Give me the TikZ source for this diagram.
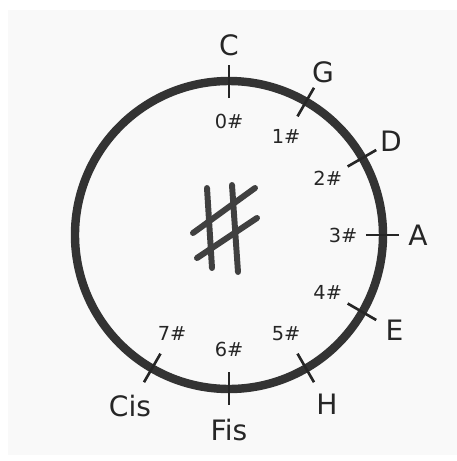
\documentclass[tikz,border=0pt]{standalone}
\usepackage{fontspec}
\setmainfont{DejaVu Sans}
\usepackage{tikz}
\usetikzlibrary{positioning}

\begin{document}
\begin{tikzpicture}[
    x=0.02cm, y=0.02cm,
    ring/.style={draw=black!80, line width=4.8pt},
    tick/.style={draw=black!85, line width=1.5pt},
    key/.style={font=\fontsize{16}{18}\selectfont, text=black!85, inner sep=0pt},
    sharps/.style={font=\fontsize{11}{13}\selectfont, text=black!85, inner sep=0pt},
    bigsharp/.style={draw=black!75, line width=3.4pt, line cap=round}
]
\useasboundingbox (-229,-226) rectangle (228,235);
\fill[white] (-229,-226) rectangle (228,235);
\fill[gray!5] (-221,-220) rectangle (228,225);
% circle of fifths
\coordinate (centre) at (0,0);
\draw[ring] (centre) circle (154);
% keys and number of sharps
\foreach \n/\k/\r in {0/C/190, 1/G/188, 2/D/187, 3/A/189, 4/E/191, 5/H/196, 6/Fis/195, 7/Cis/198} {
    \coordinate (in-\n) at ({90-30*\n}:137);
    \coordinate (out-\n) at ({90-30*\n}:170);
    \draw[tick] (in-\n) -- (out-\n);
    \node[key] (key-\n) at ({90-30*\n}:\r) {\k};
    \node[sharps] (sh-\n) at ({90-30*\n}:114) {\n\#};
}
% big sharp in the middle
\draw[bigsharp] (-22,47) -- (-17,-33);
\draw[bigsharp] (3,50) -- (9,-37);
\draw[bigsharp] (-36,2) -- (26,47);
\draw[bigsharp] (-32,-23) -- (28,17);
\end{tikzpicture}
\end{document}
